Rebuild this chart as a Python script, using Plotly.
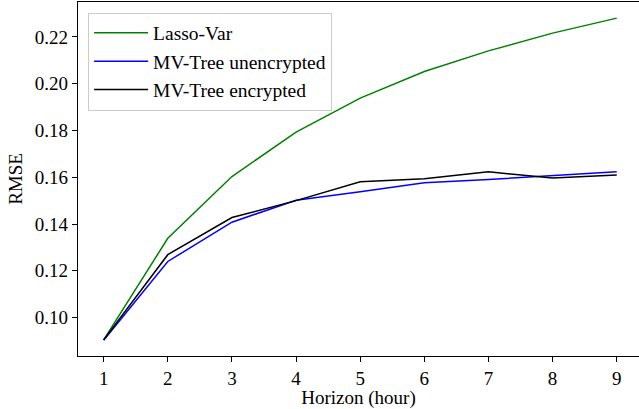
import plotly.graph_objects as go

horizon = [1, 2, 3, 4, 5, 6, 7, 8, 9]
lasso_var = [0.0905, 0.1339, 0.1603, 0.1793, 0.1938, 0.2052, 0.2140, 0.2216, 0.2280]
mv_unenc = [0.0903, 0.1240, 0.1408, 0.1502, 0.1538, 0.1576, 0.1590, 0.1608, 0.1624]
mv_enc = [0.0905, 0.1269, 0.1428, 0.1500, 0.1581, 0.1594, 0.1623, 0.1597, 0.1610]
y_ticks = [0.10, 0.12, 0.14, 0.16, 0.18, 0.20, 0.22]

FONT = "Liberation Serif"
F = dict(family=FONT, size=19, color="black")
FL = dict(family=FONT, size=19.5, color="black")

fig = go.Figure()
fig.add_trace(go.Scatter(x=horizon, y=lasso_var, mode="lines", name="Lasso-Var",
                         line=dict(color="#008000", width=1.5)))
fig.add_trace(go.Scatter(x=horizon, y=mv_unenc, mode="lines", name="MV-Tree unencrypted",
                         line=dict(color="#0000ff", width=1.5)))
fig.add_trace(go.Scatter(x=horizon, y=mv_enc, mode="lines", name="MV-Tree encrypted",
                         line=dict(color="#000000", width=1.5)))

fig.update_layout(
    template="none",
    width=639, height=409,
    margin=dict(l=78, r=0, t=2, b=53, pad=0),
    paper_bgcolor="white", plot_bgcolor="white",
    font=F,
    showlegend=True,
    legend=dict(x=0.018, y=0.97, xanchor="left", yanchor="top",
                bgcolor="rgba(255,255,255,0.8)", bordercolor="#cccccc", borderwidth=1,
                font=FL, tracegroupgap=0, itemwidth=54),
    xaxis=dict(range=[0.6, 9.347], tickmode="array", tickvals=horizon,
               ticktext=[str(h) for h in horizon], tickfont=F, automargin=False,
               showgrid=False, zeroline=False, showline=True, linecolor="black",
               linewidth=1.2, mirror=True, ticks="outside", ticklen=5, tickcolor="black",
               title=dict(text="Horizon (hour)", standoff=1, font=F)),
    yaxis=dict(range=[0.0836, 0.2349], tickmode="array", tickvals=y_ticks,
               ticktext=[f"{v:.2f}" for v in y_ticks], tickfont=F, automargin=False,
               showgrid=False, zeroline=False, showline=True, linecolor="black",
               linewidth=1.2, ticks="outside", ticklen=5, tickcolor="black",
               title=dict(text="RMSE", standoff=7, font=F)),
)

fig.write_html("out.html", config={"displayModeBar": False},
               post_script="document.body.style.margin='0';document.body.style.padding='0';")
